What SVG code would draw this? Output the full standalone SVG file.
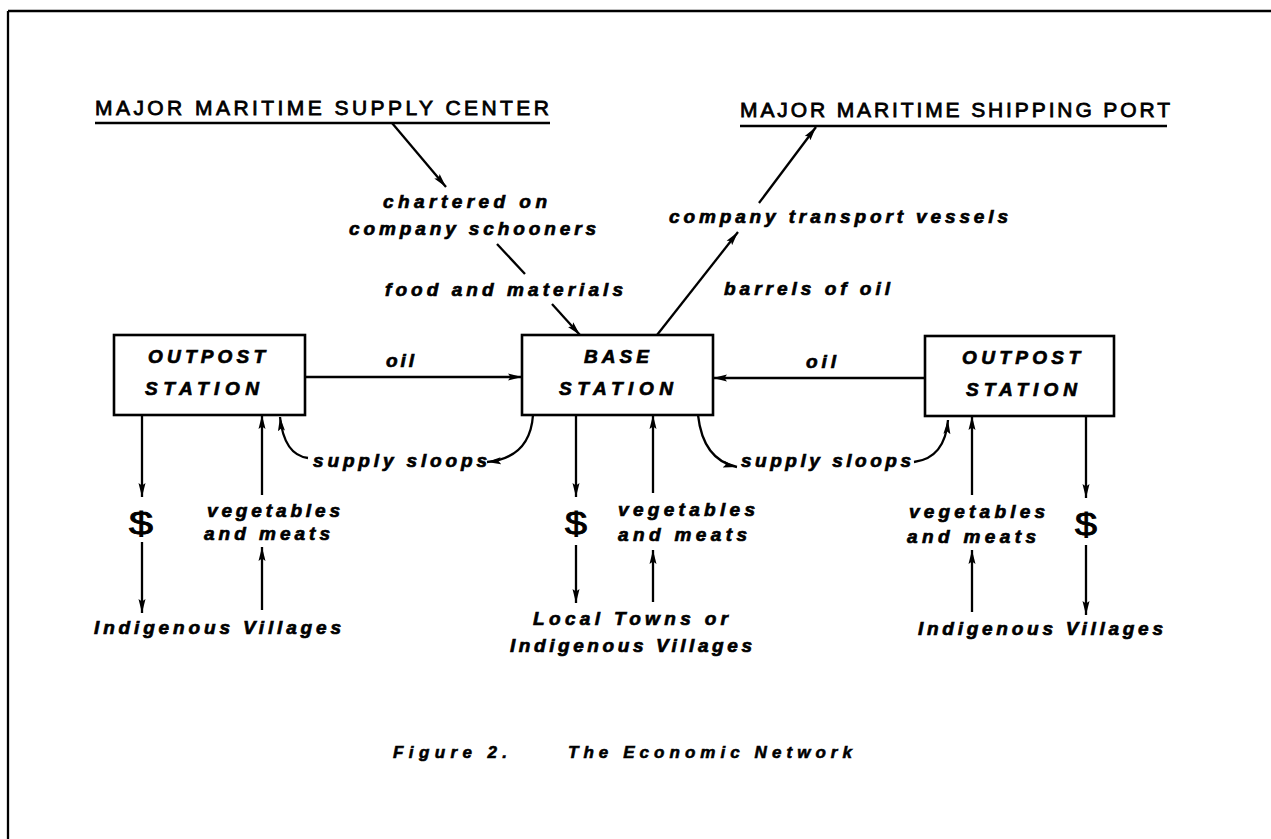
<svg xmlns="http://www.w3.org/2000/svg" width="1271" height="839" viewBox="0 0 1271 839">
<defs>
<marker id="ah" markerUnits="userSpaceOnUse" markerWidth="15" markerHeight="9" refX="14" refY="4.5" orient="auto">
<path d="M0,1 L14,4.5 L0,8 L2.5,4.5 Z" fill="#000"/>
</marker>
<style>
.ln{stroke:#000;stroke-width:2.3;fill:none}
.ar{stroke:#000;stroke-width:2.3;fill:none;marker-end:url(#ah)}
.box{fill:#fff;stroke:#000;stroke-width:2.6}
.lbl{font-family:"Liberation Sans",Arial,sans-serif;font-weight:bold;font-style:italic;font-size:19px;fill:#000;stroke:#000;stroke-width:0.7}
.ttl{font-family:"Liberation Sans",Arial,sans-serif;font-size:21px;fill:#000;stroke:#000;stroke-width:0.8}
.dol{font-family:"Liberation Sans",Arial,sans-serif;font-size:32px;fill:#000;stroke:#000;stroke-width:0.9}
.cap{font-family:"Liberation Sans",Arial,sans-serif;font-weight:bold;font-style:italic;font-size:17px;fill:#000;stroke:#000;stroke-width:0.6}
</style>
</defs>
<rect width="1271" height="839" fill="#fff"/>
<g id="frame">
<line class="ln" x1="8" y1="11" x2="1271" y2="11" stroke-width="2.6"/>
<line class="ln" x1="8" y1="11" x2="8" y2="839" stroke-width="2.6"/>
</g>
<g id="supply-center">
<text class="ttl" x="95" y="115" textLength="454" lengthAdjust="spacing">MAJOR MARITIME SUPPLY CENTER</text>
<line class="ln" x1="95" y1="123" x2="550" y2="123" stroke-width="2.6"/>
</g>
<g id="shipping-port">
<text class="ttl" x="740" y="117" textLength="430" lengthAdjust="spacing">MAJOR MARITIME SHIPPING PORT</text>
<line class="ln" x1="740" y1="126" x2="1167" y2="126" stroke-width="2.6"/>
</g>
<g id="outpost-left">
<rect class="box" x="114" y="335" width="191" height="80"/>
<text class="lbl" x="148" y="363" textLength="117" lengthAdjust="spacing">OUTPOST</text>
<text class="lbl" x="145" y="395" textLength="114" lengthAdjust="spacing">STATION</text>
</g>
<g id="base-station">
<rect class="box" x="522" y="335" width="191" height="80"/>
<text class="lbl" x="584" y="363" textLength="65" lengthAdjust="spacing">BASE</text>
<text class="lbl" x="559" y="395" textLength="114" lengthAdjust="spacing">STATION</text>
</g>
<g id="outpost-right">
<rect class="box" x="925" y="336" width="189" height="80"/>
<text class="lbl" x="962" y="364" textLength="118" lengthAdjust="spacing">OUTPOST</text>
<text class="lbl" x="966" y="396" textLength="111" lengthAdjust="spacing">STATION</text>
</g>
<g id="labels">
<text class="lbl" x="383" y="208" textLength="164" lengthAdjust="spacing">chartered on</text>
<text class="lbl" x="349" y="235" textLength="247" lengthAdjust="spacing">company schooners</text>
<text class="lbl" x="385" y="296" textLength="238" lengthAdjust="spacing">food and materials</text>
<text class="lbl" x="669" y="223" textLength="339" lengthAdjust="spacing">company transport vessels</text>
<text class="lbl" x="724" y="295" textLength="166" lengthAdjust="spacing">barrels of oil</text>
<text class="lbl" x="386" y="367" textLength="28" lengthAdjust="spacing">oil</text>
<text class="lbl" x="806" y="368" textLength="30" lengthAdjust="spacing">oil</text>
<text class="lbl" x="313" y="467" textLength="174" lengthAdjust="spacing">supply sloops</text>
<text class="lbl" x="741" y="467" textLength="170" lengthAdjust="spacing">supply sloops</text>
</g>
<g id="left-villages">
<text class="dol" x="129" y="534" textLength="24" lengthAdjust="spacingAndGlyphs">$</text>
<text class="lbl" x="207" y="517" textLength="133" lengthAdjust="spacing">vegetables</text>
<text class="lbl" x="204" y="540" textLength="126" lengthAdjust="spacing">and meats</text>
<text class="lbl" x="94" y="634" textLength="247" lengthAdjust="spacing">Indigenous Villages</text>
</g>
<g id="center-towns">
<text class="dol" x="565" y="534" textLength="22" lengthAdjust="spacingAndGlyphs">$</text>
<text class="lbl" x="618" y="516" textLength="137" lengthAdjust="spacing">vegetables</text>
<text class="lbl" x="618" y="541" textLength="129" lengthAdjust="spacing">and meats</text>
<text class="lbl" x="533" y="625" textLength="195" lengthAdjust="spacing">Local Towns or</text>
<text class="lbl" x="510" y="652" textLength="242" lengthAdjust="spacing">Indigenous Villages</text>
</g>
<g id="right-villages">
<text class="dol" x="1075" y="535" textLength="22" lengthAdjust="spacingAndGlyphs">$</text>
<text class="lbl" x="909" y="518" textLength="136" lengthAdjust="spacing">vegetables</text>
<text class="lbl" x="907" y="543" textLength="129" lengthAdjust="spacing">and meats</text>
<text class="lbl" x="918" y="635" textLength="245" lengthAdjust="spacing">Indigenous Villages</text>
</g>
<g id="connectors">
<line class="ar" x1="392" y1="123" x2="446" y2="187"/>
<line class="ln" x1="497" y1="244" x2="525" y2="274"/>
<line class="ar" x1="552" y1="304" x2="580" y2="335"/>
<line class="ar" x1="657" y1="335" x2="738" y2="232"/>
<line class="ar" x1="759" y1="203" x2="816" y2="127"/>
<line class="ar" x1="305" y1="377" x2="522" y2="377"/>
<line class="ar" x1="925" y1="378" x2="713" y2="378"/>
<line class="ar" x1="142" y1="415" x2="142" y2="497"/>
<line class="ar" x1="142" y1="542" x2="142" y2="613"/>
<line class="ar" x1="262" y1="495" x2="262" y2="415"/>
<line class="ar" x1="262" y1="610" x2="262" y2="547"/>
<line class="ar" x1="576" y1="415" x2="576" y2="497"/>
<line class="ar" x1="576" y1="545" x2="576" y2="603"/>
<line class="ar" x1="653" y1="493" x2="653" y2="415"/>
<line class="ar" x1="653" y1="602" x2="653" y2="550"/>
<line class="ar" x1="972" y1="495" x2="972" y2="416"/>
<line class="ar" x1="972" y1="612" x2="972" y2="550"/>
<line class="ar" x1="1086" y1="416" x2="1086" y2="498"/>
<line class="ar" x1="1086" y1="545" x2="1086" y2="615"/>
<path class="ar" d="M308,458 Q284,455 280,417"/>
<path class="ar" d="M533,415 Q530,458 487,462"/>
<path class="ar" d="M698,415 Q703,460 737,467"/>
<path class="ar" d="M914,462 Q945,458 948,420"/>
</g>
<g id="caption">
<text class="cap" x="393" y="758" textLength="114" lengthAdjust="spacing">Figure 2.</text>
<text class="cap" x="568" y="758" textLength="284" lengthAdjust="spacing">The Economic Network</text>
</g>
</svg>
